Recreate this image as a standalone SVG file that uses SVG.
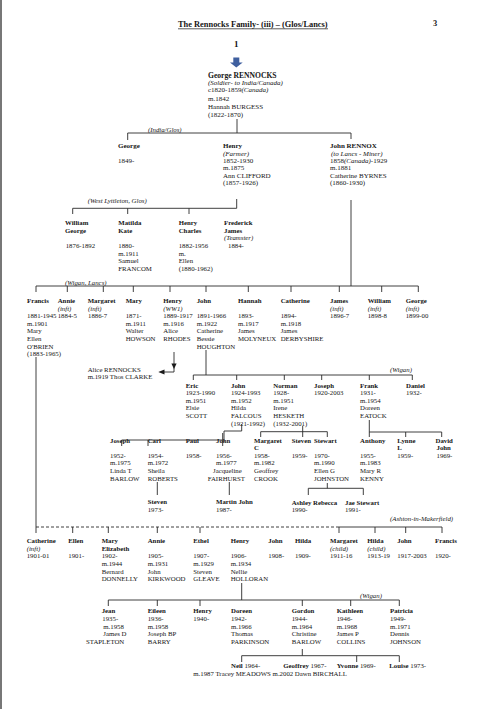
<svg xmlns="http://www.w3.org/2000/svg" width="490" height="709" viewBox="0 0 490 709">
<style>
text{font-family:"Liberation Serif","Times New Roman",serif;font-size:6.8px;fill:#151515}
.b{font-weight:bold}
.i{font-style:italic}
.big{font-size:7px}
.c line{stroke:#2a2a2a;stroke-width:0.9;fill:none}
.c .d{stroke-dasharray:3 2}
</style>
<rect width="490" height="709" fill="#fff"/>
<line x1="1" y1="0" x2="1" y2="709" stroke="#777" stroke-width="2"/>
<g id="title">
<text x="178" y="27" class="b" style="font-size:8.4px">The Rennocks Family- (iii) – (Glos/Lancs)</text>
<line x1="178" y1="28.8" x2="328" y2="28.8" stroke="#151515" stroke-width="0.7"/>
<text x="433" y="26" class="b" style="font-size:8.4px">3</text>
<text x="234" y="47" class="b" style="font-size:9px">1</text>
<path d="M233.3 57.5H239.3V62.5H242.7L236.3 67.5L230 62.5H233.3Z" fill="#3f5f9f"/>
</g>
<g id="n-george-rennocks">
<text class="big" x="208" y="77.5"><tspan class="b" style="font-size:7.6px">George RENNOCKS</tspan><tspan x="208" dy="7.4" class="i">(Soldier- to India/Canada)</tspan><tspan x="208" dy="7.5">c1820-1859<tspan class="i">(Canada)</tspan></tspan><tspan x="208" dy="8.3">m.1842</tspan><tspan x="208" dy="8.1">Hannah BURGESS</tspan><tspan x="208" dy="8">(1822-1870)</tspan></text>
</g>
<g id="n-george-1849"><text class="big" x="118" y="148.2"><tspan class="b">George</tspan><tspan x="118" dy="14.6">1849-</tspan></text></g>
<g id="n-henry-1852"><text class="big" x="223" y="148.2"><tspan class="b">Henry</tspan><tspan x="223" dy="7.4" class="i">(Farmer)</tspan><tspan x="223" dy="7.3">1852-1930</tspan><tspan x="223" dy="7.3">m.1875</tspan><tspan x="223" dy="7.3">Ann CLIFFORD</tspan><tspan x="223" dy="7.3">(1857-1926)</tspan></text></g>
<g id="n-john-rennox"><text class="big" x="330" y="148.2"><tspan class="b">John RENNOX</tspan><tspan x="331" dy="7.4" class="i">(to Lancs - Miner)</tspan><tspan x="330" dy="7.3">1858<tspan class="i">(Canada)</tspan>-1929</tspan><tspan x="330" dy="7.3">m.1881</tspan><tspan x="330" dy="7.3">Catherine BYRNES</tspan><tspan x="330" dy="7.3">(1860-1930)</tspan></text></g>
<g id="lbl-1">
<text class="i" x="148" y="131.6">(India/Glos)</text>
<text class="i" x="87.7" y="202.5">(West Lyttleton, Glos)</text>
<text class="i" x="65" y="285">(Wigan, Lancs)</text>
<text class="i" x="390" y="372">(Wigan)</text>
<text class="i" x="390" y="521">(Ashton-in-Makerfield)</text>
<text class="i" x="360" y="598">(Wigan)</text>
</g>
<g id="n-william-george"><text x="65" y="224.8"><tspan class="b">William</tspan><tspan x="65" dy="7.7" class="b">George</tspan><tspan x="65.7" dy="15.4">1876-1892</tspan></text></g>
<g id="n-matilda-kate"><text x="118.3" y="224.8"><tspan class="b">Matilda</tspan><tspan x="118.3" dy="7.7" class="b">Kate</tspan><tspan x="118.3" dy="15.4">1880-</tspan><tspan x="118.3" dy="7.7">m.1911</tspan><tspan x="118.3" dy="7.7">Samuel</tspan><tspan x="118.3" dy="7.7">FRANCOM</tspan></text></g>
<g id="n-henry-charles"><text x="178.7" y="224.8"><tspan class="b">Henry</tspan><tspan x="178.7" dy="7.7" class="b">Charles</tspan><tspan x="178.7" dy="15.4">1882-1956</tspan><tspan x="178.7" dy="7.7">m.</tspan><tspan x="178.7" dy="7.7">Ellen</tspan><tspan x="178.7" dy="7.7">(1880-1962)</tspan></text></g>
<g id="n-frederick-james"><text x="224" y="224.8"><tspan class="b">Frederick</tspan><tspan x="224" dy="7.7" class="b">James</tspan><tspan x="224" dy="7.7" class="i">(Teamster)</tspan><tspan x="228" dy="7.7">1884-</tspan></text></g>
<g id="n-francis-1881"><text x="27" y="303.2"><tspan class="b">Francis</tspan><tspan x="27" dy="15.14">1881-1945</tspan><tspan x="27" dy="7.57">m.1901</tspan><tspan x="27" dy="7.57">Mary</tspan><tspan x="27" dy="7.57">Ellen</tspan><tspan x="27" dy="7.57">O'BRIEN</tspan><tspan x="27" dy="7.57">(1883-1965)</tspan></text></g>
<g id="n-annie-1884"><text x="57.7" y="303.2"><tspan class="b">Annie</tspan><tspan x="57.7" dy="7.57" class="i">(inft)</tspan><tspan x="57.7" dy="7.57">1884-5</tspan></text></g>
<g id="n-margaret-1886"><text x="87.7" y="303.2"><tspan class="b">Margaret</tspan><tspan x="88" dy="7.57" class="i">(inft)</tspan><tspan x="88" dy="7.57">1886-7</tspan></text></g>
<g id="n-mary-1871"><text x="125.7" y="303.2"><tspan class="b">Mary</tspan><tspan x="125.7" dy="15.14">1871-</tspan><tspan x="125.7" dy="7.57">m.1911</tspan><tspan x="125.7" dy="7.57">Walter</tspan><tspan x="125.7" dy="7.57">HOWSON</tspan></text></g>
<g id="n-henry-1889"><text x="163.3" y="303.2"><tspan class="b">Henry</tspan><tspan x="163.3" dy="7.57" class="i">(WW1)</tspan><tspan x="163.3" dy="7.57">1889-1917</tspan><tspan x="163.3" dy="7.57">m.1916</tspan><tspan x="163.3" dy="7.57">Alice</tspan><tspan x="163.3" dy="7.57">RHODES</tspan></text></g>
<g id="n-john-1891"><text x="196.7" y="303.2"><tspan class="b">John</tspan><tspan x="196.7" dy="15.14">1891-1966</tspan><tspan x="196.7" dy="7.57">m.1922</tspan><tspan x="196.7" dy="7.57">Catherine</tspan><tspan x="196.7" dy="7.57">Bessie</tspan><tspan x="196.7" dy="7.57">HOUGHTON</tspan></text></g>
<g id="n-hannah-1893"><text x="238" y="303.2"><tspan class="b">Hannah</tspan><tspan x="238" dy="15.14">1893-</tspan><tspan x="238" dy="7.57">m.1917</tspan><tspan x="238" dy="7.57">James</tspan><tspan x="238" dy="7.57">MOLYNEUX</tspan></text></g>
<g id="n-catherine-1894"><text x="280.7" y="303.2"><tspan class="b">Catherine</tspan><tspan x="280.7" dy="15.14">1894-</tspan><tspan x="280.7" dy="7.57">m.1918</tspan><tspan x="280.7" dy="7.57">James</tspan><tspan x="280.7" dy="7.57">DERBYSHIRE</tspan></text></g>
<g id="n-james-1896"><text x="330" y="303.2"><tspan class="b">James</tspan><tspan x="330" dy="7.57" class="i">(inft)</tspan><tspan x="330" dy="7.57">1896-7</tspan></text></g>
<g id="n-william-1898"><text x="367.7" y="303.2"><tspan class="b">William</tspan><tspan x="367.7" dy="7.57" class="i">(inft)</tspan><tspan x="367.7" dy="7.57">1898-8</tspan></text></g>
<g id="n-george-1899"><text x="405.7" y="303.2"><tspan class="b">George</tspan><tspan x="405.7" dy="7.57" class="i">(inft)</tspan><tspan x="405.7" dy="7.57">1899-00</tspan></text></g>
<g id="n-alice-rennocks"><text x="87.7" y="371.5">Alice RENNOCKS<tspan x="87.7" dy="7.6">m.1919 Thos CLARKE</tspan></text></g>
<g id="n-eric"><text x="185.7" y="387.5"><tspan class="b">Eric</tspan><tspan x="185.7" dy="7.66">1923-1990</tspan><tspan x="185.7" dy="7.66">m.1951</tspan><tspan x="185.7" dy="7.66">Elsie</tspan><tspan x="185.7" dy="7.66">SCOTT</tspan></text></g>
<g id="n-john-1924"><text x="231" y="387.5"><tspan class="b">John</tspan><tspan x="231" dy="7.66">1924-1993</tspan><tspan x="231" dy="7.66">m.1952</tspan><tspan x="231" dy="7.66">Hilda</tspan><tspan x="231" dy="7.66">FALCOUS</tspan><tspan x="231" dy="7.66">(1921-1992)</tspan></text></g>
<g id="n-norman"><text x="273.3" y="387.5"><tspan class="b">Norman</tspan><tspan x="273.3" dy="7.66">1928-</tspan><tspan x="273.3" dy="7.66">m.1951</tspan><tspan x="273.3" dy="7.66">Irene</tspan><tspan x="273.3" dy="7.66">HESKETH</tspan><tspan x="273.3" dy="7.66">(1932-2001)</tspan></text></g>
<g id="n-joseph-1920"><text x="314" y="387.5"><tspan class="b">Joseph</tspan><tspan x="314" dy="7.66">1920-2003</tspan></text></g>
<g id="n-frank"><text x="360" y="387.5"><tspan class="b">Frank</tspan><tspan x="360" dy="7.66">1931-</tspan><tspan x="360" dy="7.66">m.1954</tspan><tspan x="360" dy="7.66">Doreen</tspan><tspan x="360" dy="7.66">EATOCK</tspan></text></g>
<g id="n-daniel"><text x="406" y="387.5"><tspan class="b">Daniel</tspan><tspan x="406" dy="7.66">1932-</tspan></text></g>
<g id="n-joseph-1952"><text x="110" y="442.5"><tspan class="b">Joseph</tspan><tspan x="110" dy="15.2">1952-</tspan><tspan x="110" dy="7.6">m.1975</tspan><tspan x="110" dy="7.6">Linda T</tspan><tspan x="110" dy="7.6">BARLOW</tspan></text></g>
<g id="n-carl"><text x="147.7" y="442.5"><tspan class="b">Carl</tspan><tspan x="147.7" dy="15.2">1954-</tspan><tspan x="147.7" dy="7.6">m.1972</tspan><tspan x="147.7" dy="7.6">Sheila</tspan><tspan x="147.7" dy="7.6">ROBERTS</tspan></text></g>
<g id="n-paul"><text x="185.7" y="442.5"><tspan class="b">Paul</tspan><tspan x="185.7" dy="15.2">1958-</tspan></text></g>
<g id="n-john-1956"><text x="216" y="442.5"><tspan class="b">John</tspan><tspan x="216" dy="15.2">1956-</tspan><tspan x="216" dy="7.6">m.1977</tspan><tspan x="213" dy="7.6">Jacqueline</tspan><tspan x="207.7" dy="7.6">FAIRHURST</tspan></text></g>
<g id="n-margaret-c"><text x="254" y="442.5"><tspan class="b">Margaret</tspan><tspan x="254" dy="7.6" class="b">C</tspan><tspan x="254" dy="7.6">1958-</tspan><tspan x="254" dy="7.6">m.1982</tspan><tspan x="254" dy="7.6">Geoffrey</tspan><tspan x="254" dy="7.6">CROOK</tspan></text></g>
<g id="n-steven-1959"><text x="291.7" y="442.5"><tspan class="b">Steven</tspan><tspan x="291.7" dy="15.2">1959-</tspan></text></g>
<g id="n-stewart"><text x="314" y="442.5"><tspan class="b">Stewart</tspan><tspan x="314" dy="15.2">1970-</tspan><tspan x="314" dy="7.6">m.1990</tspan><tspan x="314" dy="7.6">Ellen  G</tspan><tspan x="314" dy="7.6">JOHNSTON</tspan></text></g>
<g id="n-anthony"><text x="360" y="442.5"><tspan class="b">Anthony</tspan><tspan x="360" dy="15.2">1955-</tspan><tspan x="360" dy="7.6">m.1983</tspan><tspan x="360" dy="7.6">Mary R</tspan><tspan x="360" dy="7.6">KENNY</tspan></text></g>
<g id="n-lynne"><text x="397.3" y="442.5"><tspan class="b">Lynne</tspan><tspan x="397.3" dy="7.6" class="b">L</tspan><tspan x="397.3" dy="7.6">1959-</tspan></text></g>
<g id="n-david-john"><text x="435.5" y="442.5"><tspan class="b">David</tspan><tspan x="436.5" dy="7.6" class="b">John</tspan><tspan x="436.5" dy="7.6">1969-</tspan></text></g>
<g id="n-steven-1973"><text x="147.7" y="504.2"><tspan class="b">Steven</tspan><tspan x="147.7" dy="7.4">1973-</tspan></text></g>
<g id="n-martin-john"><text x="216" y="504.2"><tspan class="b">Martin John</tspan><tspan x="216" dy="7.4">1987-</tspan></text></g>
<g id="n-ashley-rebecca"><text x="291.7" y="505"><tspan class="b">Ashley Rebecca</tspan><tspan x="291.7" dy="7.4">1990-</tspan></text></g>
<g id="n-jae-stewart"><text x="345" y="505"><tspan class="b">Jae Stewart</tspan><tspan x="345" dy="7.4">1991-</tspan></text></g>
<g id="n-catherine-1901"><text x="26.7" y="543.2"><tspan class="b">Catherine</tspan><tspan x="26.7" dy="7.6" class="i">(inft)</tspan><tspan x="26.7" dy="7.6">1901-01</tspan></text></g>
<g id="n-ellen-1901"><text x="68.3" y="543.2"><tspan class="b">Ellen</tspan><tspan x="68.3" dy="15.2">1901-</tspan></text></g>
<g id="n-mary-elizabeth"><text x="101.7" y="543.2"><tspan class="b">Mary</tspan><tspan x="101.7" dy="7.6" class="b">Elizabeth</tspan><tspan x="101.7" dy="7.6">1902-</tspan><tspan x="101.7" dy="7.6">m.1944</tspan><tspan x="101.7" dy="7.6">Bernard</tspan><tspan x="101.7" dy="7.6">DONNELLY</tspan></text></g>
<g id="n-annie-1905"><text x="147.7" y="543.2"><tspan class="b">Annie</tspan><tspan x="147.7" dy="15.2">1905-</tspan><tspan x="147.7" dy="7.6">m.1931</tspan><tspan x="147.7" dy="7.6">John</tspan><tspan x="147.7" dy="7.6">KIRKWOOD</tspan></text></g>
<g id="n-ethel"><text x="193.3" y="543.2"><tspan class="b">Ethel</tspan><tspan x="193.3" dy="15.2">1907-</tspan><tspan x="193.3" dy="7.6">m.1929</tspan><tspan x="193.3" dy="7.6">Steven</tspan><tspan x="193.3" dy="7.6">GLEAVE</tspan></text></g>
<g id="n-henry-1906"><text x="230.7" y="543.2"><tspan class="b">Henry</tspan><tspan x="230.7" dy="15.2">1906-</tspan><tspan x="230.7" dy="7.6">m.1934</tspan><tspan x="230.7" dy="7.6">Nellie</tspan><tspan x="230.7" dy="7.6">HOLLORAN</tspan></text></g>
<g id="n-john-1908"><text x="268.3" y="543.2"><tspan class="b">John</tspan><tspan x="268.3" dy="15.2">1908-</tspan></text></g>
<g id="n-hilda-1909"><text x="295" y="543.2"><tspan class="b">Hilda</tspan><tspan x="295" dy="15.2">1909-</tspan></text></g>
<g id="n-margaret-1911"><text x="330" y="543.2"><tspan class="b">Margaret</tspan><tspan x="330" dy="7.6" class="i">(child)</tspan><tspan x="330" dy="7.6">1911-16</tspan></text></g>
<g id="n-hilda-1913"><text x="367.3" y="543.2"><tspan class="b">Hilda</tspan><tspan x="367.3" dy="7.6" class="i">(child)</tspan><tspan x="367.3" dy="7.6">1913-19</tspan></text></g>
<g id="n-john-1917"><text x="397.3" y="543.2"><tspan class="b">John</tspan><tspan x="397.3" dy="15.2">1917-2003</tspan></text></g>
<g id="n-francis-1920"><text x="435" y="543.2"><tspan class="b">Francis</tspan><tspan x="435" dy="15.2">1920-</tspan></text></g>
<g id="n-jean"><text x="101.7" y="613.2"><tspan class="b">Jean</tspan><tspan x="102.3" dy="7.7">1935-</tspan><tspan x="103.3" dy="7.7">m.1958</tspan><tspan x="103.3" dy="7.7">James D</tspan><tspan x="86" dy="7.7">STAPLETON</tspan></text></g>
<g id="n-eileen"><text x="147.7" y="613.2"><tspan class="b">Eileen</tspan><tspan x="147.7" dy="7.7">1936-</tspan><tspan x="147.7" dy="7.7">m.1958</tspan><tspan x="147.7" dy="7.7">Joseph BP</tspan><tspan x="147.7" dy="7.7">BARRY</tspan></text></g>
<g id="n-henry-1940"><text x="193.3" y="613.2"><tspan class="b">Henry</tspan><tspan x="193.3" dy="7.7">1940-</tspan></text></g>
<g id="n-doreen"><text x="231" y="613.2"><tspan class="b">Doreen</tspan><tspan x="231" dy="7.7">1942-</tspan><tspan x="231" dy="7.7">m.1966</tspan><tspan x="231" dy="7.7">Thomas</tspan><tspan x="231" dy="7.7">PARKINSON</tspan></text></g>
<g id="n-gordon"><text x="291.7" y="613.2"><tspan class="b">Gordon</tspan><tspan x="291.7" dy="7.7">1944-</tspan><tspan x="291.7" dy="7.7">m.1964</tspan><tspan x="291.7" dy="7.7">Christine</tspan><tspan x="291.7" dy="7.7">BARLOW</tspan></text></g>
<g id="n-kathleen"><text x="336.7" y="613.2"><tspan class="b">Kathleen</tspan><tspan x="336.7" dy="7.7">1946-</tspan><tspan x="336.7" dy="7.7">m.1968</tspan><tspan x="336.7" dy="7.7">James P</tspan><tspan x="336.7" dy="7.7">COLLINS</tspan></text></g>
<g id="n-patricia"><text x="390" y="613.2"><tspan class="b">Patricia</tspan><tspan x="390" dy="7.7">1949-</tspan><tspan x="390" dy="7.7">m.1971</tspan><tspan x="390" dy="7.7">Dennis</tspan><tspan x="390" dy="7.7">JOHNSON</tspan></text></g>
<g id="n-neil"><text x="231" y="667.5"><tspan class="b">Neil</tspan> 1964-</text></g>
<g id="n-geoffrey"><text x="283.3" y="667.5"><tspan class="b">Geoffrey</tspan> 1967-</text></g>
<g id="n-yvonne"><text x="336.7" y="667.5"><tspan class="b">Yvonne</tspan> 1969-</text></g>
<g id="n-louise"><text x="389.3" y="667.5"><tspan class="b">Louise</tspan> 1973-</text></g>
<g id="n-marriages"><text x="193.3" y="675.5">m.1987 Tracey MEADOWS m.2002 Dawn BIRCHALL</text></g>
<g id="connectors" class="c">
<line x1="237" y1="119" x2="237" y2="133"/>
<line x1="127.7" y1="133" x2="351" y2="133"/>
<line x1="127.7" y1="133" x2="127.7" y2="140"/>
<line x1="351" y1="133" x2="351" y2="139"/>
<line x1="236.7" y1="199" x2="236.7" y2="208.3"/>
<line x1="72.7" y1="208.3" x2="236.7" y2="208.3"/>
<line x1="72.7" y1="208.3" x2="72.7" y2="214"/>
<line x1="127.7" y1="208.3" x2="127.7" y2="214"/>
<line x1="189" y1="208.3" x2="189" y2="214"/>
<line x1="351" y1="200" x2="351" y2="286"/>
<line x1="36" y1="286" x2="418.3" y2="286"/>
<line x1="36" y1="286" x2="36" y2="292"/>
<line x1="67.3" y1="286" x2="67.3" y2="292"/>
<line x1="103.3" y1="286" x2="103.3" y2="292"/>
<line x1="133.3" y1="286" x2="133.3" y2="292"/>
<line x1="170" y1="286" x2="170" y2="292"/>
<line x1="206" y1="286" x2="206" y2="292"/>
<line x1="248.3" y1="286" x2="248.3" y2="292"/>
<line x1="291" y1="286" x2="291" y2="292"/>
<line x1="339.3" y1="286" x2="339.3" y2="292"/>
<line x1="381.7" y1="286" x2="381.7" y2="292"/>
<line x1="418.3" y1="286" x2="418.3" y2="292"/>
<line x1="36" y1="357" x2="36" y2="533"/>
<line x1="174" y1="352" x2="174" y2="372"/>
<line x1="174" y1="372" x2="163" y2="372"/>
<path d="M171.4 363.5H176.6L174 369Z" fill="#1a1a1a"/>
<path d="M158.3 372L164.5 369.4V374.6Z" fill="#1a1a1a"/>
<line x1="206" y1="350" x2="206" y2="375"/>
<line x1="193.3" y1="375" x2="412.3" y2="375"/>
<line x1="193.3" y1="375" x2="193.3" y2="380"/>
<line x1="236.7" y1="375" x2="236.7" y2="380"/>
<line x1="284.3" y1="375" x2="284.3" y2="380"/>
<line x1="321.7" y1="375" x2="321.7" y2="380"/>
<line x1="369.3" y1="375" x2="369.3" y2="380"/>
<line x1="412.3" y1="375" x2="412.3" y2="380"/>
<line x1="121.7" y1="440" x2="222.7" y2="440"/>
<line x1="222.7" y1="433" x2="222.7" y2="446"/>
<line x1="121.7" y1="440" x2="121.7" y2="446"/>
<line x1="148" y1="440" x2="148" y2="446"/>
<line x1="241.7" y1="424" x2="241.7" y2="431"/>
<line x1="224" y1="431" x2="241.7" y2="431"/>
<line x1="224" y1="431" x2="224" y2="442"/>
<line x1="260.7" y1="431.7" x2="327.3" y2="431.7"/>
<line x1="260.7" y1="431.7" x2="260.7" y2="437"/>
<line x1="327.3" y1="431.7" x2="327.3" y2="437"/>
<line x1="302.7" y1="426" x2="302.7" y2="437"/>
<line x1="369.3" y1="420" x2="369.3" y2="437"/>
<line x1="369.3" y1="432" x2="441.7" y2="432"/>
<line x1="405.7" y1="432" x2="405.7" y2="437"/>
<line x1="441.7" y1="432" x2="441.7" y2="437"/>
<line x1="157.3" y1="482" x2="157.3" y2="495"/>
<line x1="229.3" y1="482" x2="229.3" y2="495"/>
<line x1="327.3" y1="483" x2="327.3" y2="488.3"/>
<line x1="308.3" y1="488.3" x2="363.3" y2="488.3"/>
<line x1="308.3" y1="488.3" x2="308.3" y2="495"/>
<line x1="363.3" y1="488.3" x2="363.3" y2="495"/>
<line class="d" x1="36" y1="527" x2="339" y2="527"/>
<line x1="339" y1="527" x2="442" y2="527"/>
<line x1="72.7" y1="527" x2="72.7" y2="533"/>
<line x1="108.3" y1="527" x2="108.3" y2="533"/>
<line x1="157.3" y1="527" x2="157.3" y2="533"/>
<line x1="200" y1="527" x2="200" y2="533"/>
<line x1="339" y1="527" x2="339" y2="533"/>
<line x1="375" y1="527" x2="375" y2="533"/>
<line x1="405.7" y1="527" x2="405.7" y2="533"/>
<line x1="442" y1="527" x2="442" y2="533"/>
<line x1="241.7" y1="583" x2="241.7" y2="600"/>
<line x1="108.3" y1="600" x2="399.3" y2="600"/>
<line x1="108.3" y1="600" x2="108.3" y2="606"/>
<line x1="157.3" y1="600" x2="157.3" y2="606"/>
<line x1="200" y1="600" x2="200" y2="606"/>
<line x1="302.3" y1="600" x2="302.3" y2="606"/>
<line x1="350.7" y1="600" x2="350.7" y2="606"/>
<line x1="399.3" y1="600" x2="399.3" y2="606"/>
<line x1="302.3" y1="649" x2="302.3" y2="655.7"/>
<line x1="241.7" y1="655.7" x2="399.3" y2="655.7"/>
<line x1="241.7" y1="655.7" x2="241.7" y2="662"/>
<line x1="356.7" y1="655.7" x2="356.7" y2="662"/>
<line x1="399.3" y1="655.7" x2="399.3" y2="662"/>
</g>
</svg>
